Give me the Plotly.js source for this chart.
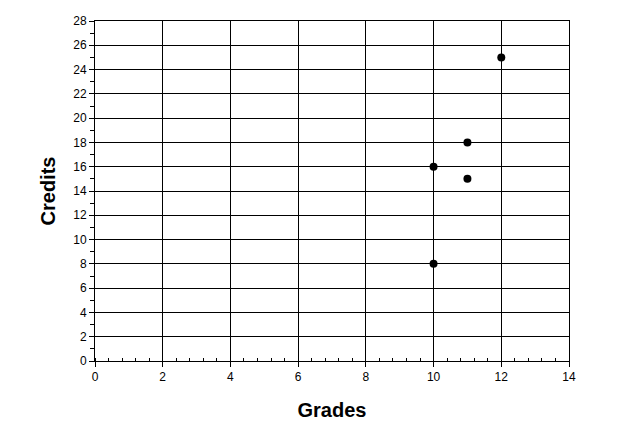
<!DOCTYPE html>
<html>
<head>
<meta charset="utf-8">
<script src="https://cdn.plot.ly/plotly-3.0.1.min.js"></script>
<style>html,body{margin:0;padding:0;background:#fff;}#chart{width:633px;height:432px;}</style>
</head>
<body>
<div id="chart"></div>
<script>
const grades = [10, 10, 11, 11, 12];
const credits = [16, 8, 18, 15, 25];
const xTitle = "Grades";
const yTitle = "Credits";

const trace = {
  x: grades, y: credits, type: "scatter", mode: "markers",
  marker: {color: "#000", size: 8, line: {width: 0}},
  hoverinfo: "skip"
};
const layout = {
  width: 633, height: 432,
  margin: {l: 95, r: 64, t: 21, b: 71},
  paper_bgcolor: "#fff", plot_bgcolor: "#fff",
  showlegend: false,
  font: {family: "Arial, 'Liberation Sans', sans-serif", color: "#000", size: 12},
  xaxis: {
    range: [0, 14], dtick: 2, tick0: 0, fixedrange: true,
    showgrid: true, gridcolor: "#000", gridwidth: 1,
    showline: true, linecolor: "#000", linewidth: 1, mirror: true,
    ticks: "outside", ticklen: 5, tickcolor: "#000",
    minor: {dtick: 0.4, ticks: "inside", ticklen: 3, tickcolor: "#000", showgrid: false},
    zeroline: false,
    tickfont: {size: 12},
    title: {text: xTitle, font: {size: 20, weight: "bold"}, standoff: 19}
  },
  yaxis: {
    range: [0, 28], dtick: 2, tick0: 0, fixedrange: true,
    showgrid: true, gridcolor: "#000", gridwidth: 1,
    showline: true, linecolor: "#000", linewidth: 1, mirror: true,
    ticks: "outside", ticklen: 5, tickcolor: "#000",
    minor: {dtick: 1, ticks: "outside", ticklen: 4, tickcolor: "#000", showgrid: false},
    zeroline: false,
    tickfont: {size: 12},
    title: {text: yTitle, font: {size: 20, weight: "bold"}, standoff: 12}
  }
};
Plotly.newPlot("chart", [trace], layout, {staticPlot: true, displayModeBar: false});
</script>
</body>
</html>
